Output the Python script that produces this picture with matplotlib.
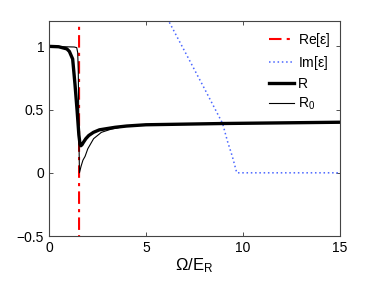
import numpy as np
import matplotlib
matplotlib.use('Agg')
import matplotlib.pyplot as plt

plt.rcParams['font.family'] = ['Liberation Sans', 'DejaVu Sans']
plt.rcParams['mathtext.fontset'] = 'custom'
plt.rcParams['mathtext.rm'] = 'Liberation Sans'
plt.rcParams['mathtext.it'] = 'Liberation Sans'

# Re[eps] diverges at the resonance -> near vertical line
re_x = [1.548, 1.552]
re_y = [-5.0, 5.0]

# Im[eps]
im_x = [5.9, 6.17, 7.0, 8.0, 8.95, 9.2, 9.45, 9.68, 15.0]
im_y = [1.28, 1.2, 0.96, 0.67, 0.39, 0.25, 0.13, 0.0, 0.0]

# R
r_x = [0, 0.5, 0.92, 1.05, 1.22, 1.34, 1.45, 1.54, 1.6, 1.64, 1.7, 1.77, 1.9,
       2.05, 2.29, 2.6, 3.0, 3.41, 4.0, 5.0, 7.0, 9.0, 12.0, 15.0]
r_y = [1.0, 0.997, 0.98, 0.96, 0.9, 0.7, 0.49, 0.3, 0.225, 0.214, 0.222, 0.24,
       0.27, 0.295, 0.32, 0.34, 0.35, 0.36, 0.37, 0.38, 0.385, 0.39, 0.395, 0.40]

# R_0
r0_x = [0, 1.3, 1.43, 1.48, 1.51, 1.53, 1.55, 1.57, 1.65, 1.75, 1.86, 2.0, 2.3,
        2.7, 3.2, 4.0, 5.0, 7.0, 9.0, 12.0, 15.0]
r0_y = [1.0, 0.995, 0.99, 0.95, 0.8, 0.5, 0.2, 0.0, 0.05, 0.1, 0.13, 0.19, 0.27,
        0.32, 0.345, 0.37, 0.38, 0.385, 0.39, 0.395, 0.40]

fig = plt.figure(figsize=(3.74, 2.81), dpi=100)
ax = fig.add_axes([0.131, 0.160, 0.778, 0.765])

ax.plot(re_x, re_y, color='red', linestyle=(0, (6, 2.5, 1.5, 2.5)), lw=1.5,
        label=r'Re[$\epsilon$]')
ax.plot(im_x, im_y, color='#4a66ff', linestyle=(0, (1, 1.8)), lw=1.1,
        label=r'Im[$\epsilon$]')
ax.plot(r_x, r_y, color='black', lw=2.4, label='R')
ax.plot(r0_x, r0_y, color='black', lw=0.8, label=r'R$_0$')

ax.set_xlim(0, 15)
ax.set_ylim(-0.5, 1.2)
ax.set_xticks([0, 5, 10, 15])
ax.set_yticks([-0.5, 0, 0.5, 1])
ax.set_xticklabels(['0', '5', '10', '15'])
ax.set_yticklabels(['\u22120.5', '0', '0.5', '1'])
ax.tick_params(direction='in', top=True, right=True, length=3, width=0.6,
               labelsize=10, colors='#333333', labelcolor='black')
for s in ax.spines.values():
    s.set_linewidth(0.8)
    s.set_color('#444444')

ax.set_xlabel(r'$\Omega$/E$_\mathrm{R}$', fontsize=12, labelpad=1)

ax.legend(loc='upper right', frameon=False, fontsize=10, handlelength=1.8,
          handletextpad=0.3, labelspacing=0.35, borderaxespad=0.3)

fig.savefig('out.png', dpi=100)
